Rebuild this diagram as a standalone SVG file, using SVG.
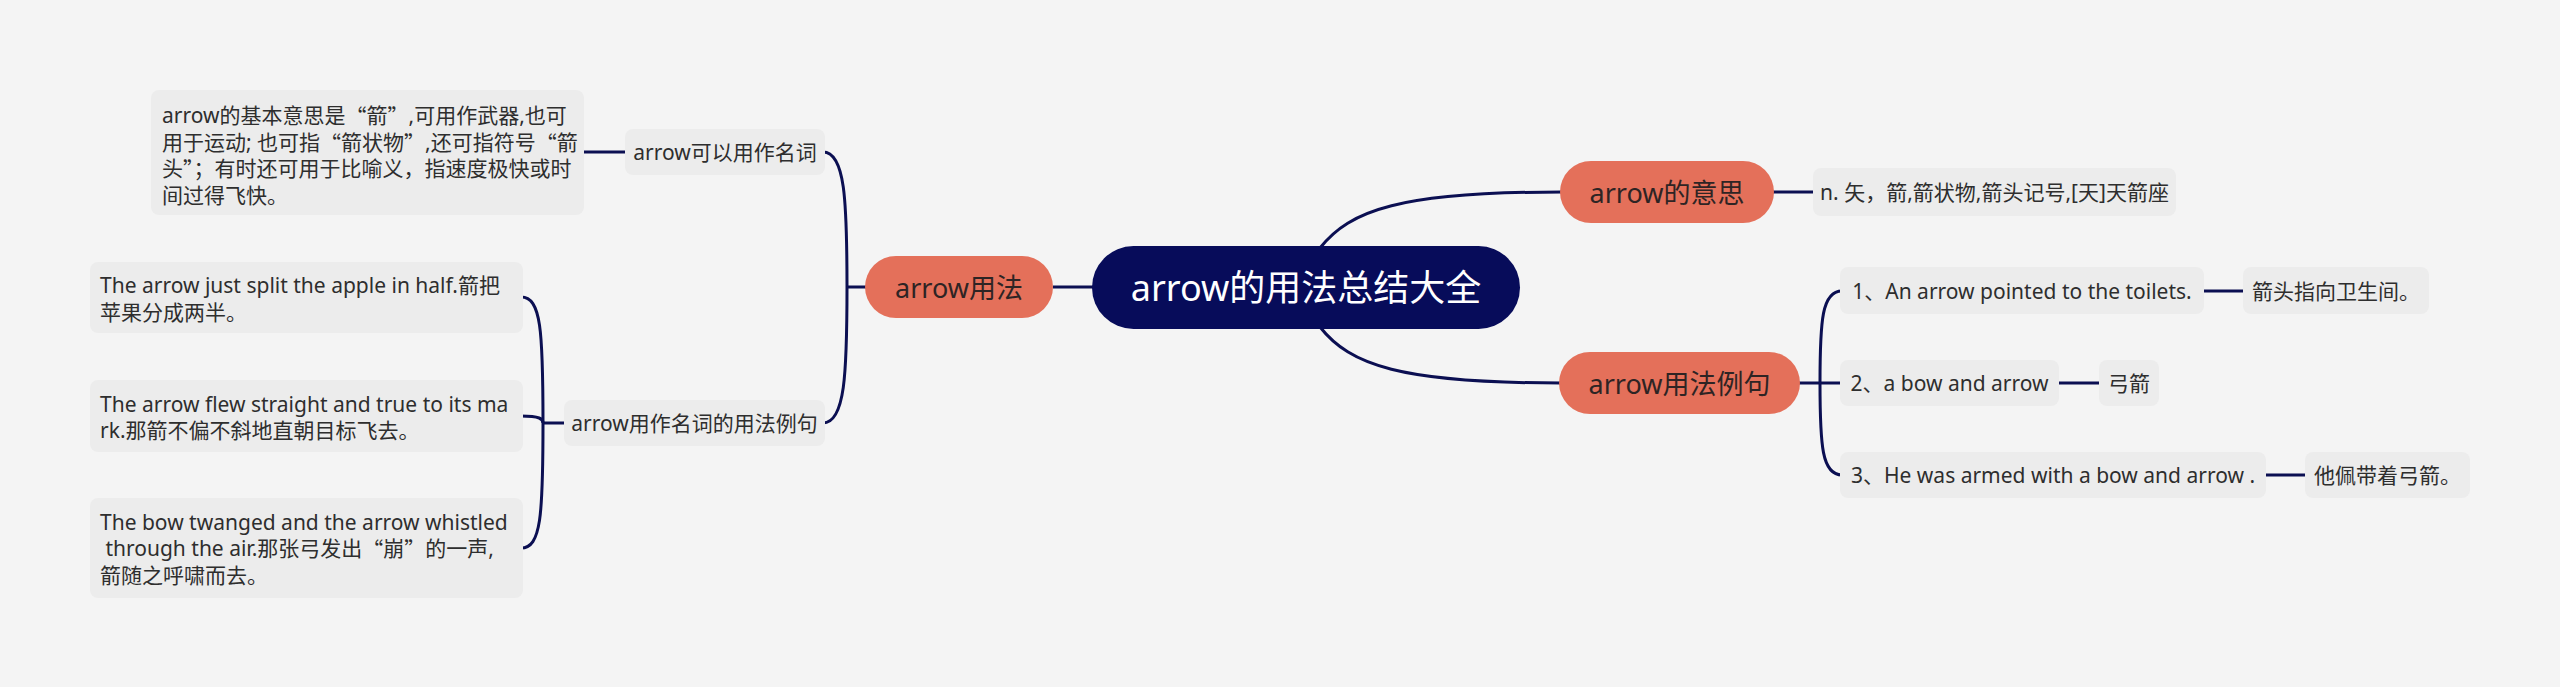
<svg xmlns="http://www.w3.org/2000/svg" width="2560" height="687" viewBox="0 0 2560 687">
<style>
text{font-family:"Noto Sans","Noto Sans CJK SC","Microsoft YaHei",sans-serif;}
.q{font-family:"Noto Sans CJK SC",sans-serif;}
.bg{fill:#f4f4f4;}
.box{fill:#ececec;}
.t{font-size:21px;fill:#2e2e2e;}
.m{text-anchor:middle;dominant-baseline:central;}
.org{fill:#e4705a;}
.ot{font-size:27px;fill:#2e2424;}
.ct{font-size:36px;fill:#ffffff;}
.c{fill:none;stroke:#0b0f52;stroke-width:3;}
</style>
<rect class="bg" x="0" y="0" width="2560" height="687"/>
<g id="connectors">
<path class="c" d="M1053,287 L1100,287"/>
<path class="c" d="M1320,248 C1350,210 1400,192 1562,192"/>
<path class="c" d="M1320,327 C1350,365 1400,383 1561,383"/>
<path class="c" d="M1772,192 L1815,192"/>
<path class="c" d="M1798,383 L1842,383"/>
<path class="c" d="M1820,383 C1820,320 1822,291 1842,291"/>
<path class="c" d="M1820,383 C1820,446 1822,475 1842,475"/>
<path class="c" d="M2202,291 L2245,291"/>
<path class="c" d="M2057,383 L2101,383"/>
<path class="c" d="M2264,475 L2307,475"/>
<path class="c" d="M867,287 L847,287"/>
<path class="c" d="M847,287 C847,200 845,152 823,152"/>
<path class="c" d="M847,287 C847,374 845,423 823,423"/>
<path class="c" d="M582,152 L627,152"/>
<path class="c" d="M566,423 L543,423"/>
<path class="c" d="M543,423 C543,330 541,297 521,297"/>
<path class="c" d="M543,423 C543,419 540,416 521,416"/>
<path class="c" d="M543,423 C543,516 541,548 521,548"/>
</g>
<g id="center">
<rect x="1092" y="246" width="428" height="83" rx="41.5" fill="#070c5a"/>
<text class="ct m" x="1306" y="287">arrow的用法总结大全</text>
</g>
<g id="usage">
<rect class="org" x="865" y="256" width="188" height="62" rx="31"/>
<text class="ot m" x="959" y="287">arrow用法</text>
</g>
<g id="meaning">
<rect class="org" x="1560" y="161" width="214" height="62" rx="31"/>
<text class="ot m" x="1667" y="192">arrow的意思</text>
</g>
<g id="examples">
<rect class="org" x="1559" y="352" width="241" height="62" rx="31"/>
<text class="ot m" x="1679.5" y="383">arrow用法例句</text>
</g>
<g id="meaning-def">
<rect class="box" x="1813" y="168" width="363" height="48" rx="8"/>
<text class="t m" x="1994.5" y="192">n. 矢，箭,箭状物,箭头记号,[天]天箭座</text>
</g>
<g id="ex1">
<rect class="box" x="1840" y="267" width="364" height="47" rx="8"/>
<text class="t m" x="2022" y="290.5">1、An arrow pointed to the toilets.</text>
</g>
<g id="ex1-cn">
<rect class="box" x="2243" y="267" width="186" height="47" rx="8"/>
<text class="t m" x="2336" y="290.5">箭头指向卫生间。</text>
</g>
<g id="ex2">
<rect class="box" x="1840" y="360" width="219" height="46" rx="8"/>
<text class="t m" x="1949.5" y="383">2、a bow and arrow</text>
</g>
<g id="ex2-cn">
<rect class="box" x="2099" y="360" width="60" height="46" rx="8"/>
<text class="t m" x="2129" y="383">弓箭</text>
</g>
<g id="ex3">
<rect class="box" x="1840" y="452" width="426" height="46" rx="8"/>
<text class="t m" x="2053" y="475">3、He was armed with a bow and arrow .</text>
</g>
<g id="ex3-cn">
<rect class="box" x="2305" y="452" width="165" height="46" rx="8"/>
<text class="t m" x="2387.5" y="475">他佩带着弓箭。</text>
</g>
<g id="noun">
<rect class="box" x="625" y="129" width="200" height="46" rx="8"/>
<text class="t m" x="725" y="152">arrow可以用作名词</text>
</g>
<g id="noun-desc">
<rect class="box" x="151" y="90" width="433" height="125" rx="8"/>
<text class="t" dominant-baseline="central" x="162" y="115">arrow的基本意思是<tspan class="q">“</tspan>箭<tspan class="q">”</tspan>,可用作武器,也可</text>
<text class="t" dominant-baseline="central" x="162" y="142">用于运动; 也可指<tspan class="q">“</tspan>箭状物<tspan class="q">”</tspan>,还可指符号<tspan class="q">“</tspan>箭</text>
<text class="t" dominant-baseline="central" x="162" y="168">头<tspan class="q">”</tspan>；有时还可用于比喻义，指速度极快或时</text>
<text class="t" dominant-baseline="central" x="162" y="195">间过得飞快。</text>
</g>
<g id="noun-examples">
<rect class="box" x="564" y="400" width="261" height="46" rx="8"/>
<text class="t m" x="694.5" y="423">arrow用作名词的用法例句</text>
</g>
<g id="sent-a">
<rect class="box" x="90" y="262" width="433" height="71" rx="8"/>
<text class="t" dominant-baseline="central" x="100" y="285">The arrow just split the apple in half.箭把</text>
<text class="t" dominant-baseline="central" x="100" y="312">苹果分成两半。</text>
</g>
<g id="sent-b">
<rect class="box" x="90" y="380" width="433" height="72" rx="8"/>
<text class="t" dominant-baseline="central" x="100" y="404">The arrow flew straight and true to its ma</text>
<text class="t" dominant-baseline="central" x="100" y="430">rk.那箭不偏不斜地直朝目标飞去。</text>
</g>
<g id="sent-c">
<rect class="box" x="90" y="498" width="433" height="100" rx="8"/>
<text class="t" dominant-baseline="central" x="100" y="522">The bow twanged and the arrow whistled</text>
<text class="t" dominant-baseline="central" x="100" y="548" xml:space="preserve"> through the air.那张弓发出<tspan class="q">“</tspan>崩<tspan class="q">”</tspan>的一声,</text>
<text class="t" dominant-baseline="central" x="100" y="575">箭随之呼啸而去。</text>
</g>
</svg>
